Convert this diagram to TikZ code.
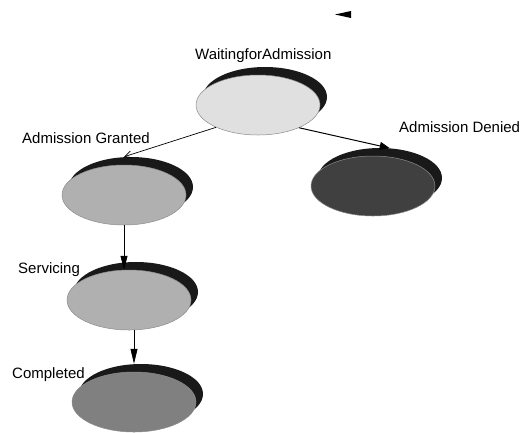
\documentclass[tikz,border=0pt]{standalone}
\usepackage{fontspec}
\setmainfont{Liberation Sans}
\usetikzlibrary{shapes.geometric, arrows.meta, shadows}

\begin{document}
\begin{tikzpicture}[
  x=1pt, y=-1pt,
  every node/.style={font=\fontsize{15}{18}\selectfont},
  phase/.style={
    ellipse, draw=black!45, line width=0.5pt,
    minimum width=124pt, minimum height=60pt, inner sep=0pt,
    drop shadow={shadow xshift=7pt, shadow yshift=8pt,
                 fill=black!90, opacity=1}
  },
  phasename/.style={anchor=base west, inner sep=0pt},
  arrow/.style={line width=0.7pt}
]

\useasboundingbox (0,0) rectangle (521,432);

\node[phase, fill=black!12] (waiting)   at (258,105) {};
\node[phase, fill=black!31] (granted)   at (124,195) {};
\node[phase, fill=black!75] (denied)    at (373,186) {};
\node[phase, fill=black!31] (servicing) at (129,300) {};
\node[phase, fill=black!50] (completed) at (134,402) {};

\node[phasename] (waitingname)   at (195,59)  {WaitingforAdmission};
\node[phasename] (grantedname)   at (22,143)  {Admission Granted};
\node[phasename] (deniedname)    at (399,132) {Admission Denied};
\node[phasename] (servicingname) at (18,273)  {Servicing};
\node[phasename] (completedname) at (12,378)  {Completed};

\draw[arrow, -{Straight Barb[length=7pt, width=7pt]}]
  (waiting.208) -- ([yshift=8pt]granted.north);
\draw[arrow, line width=1pt, -{Triangle[length=10pt, width=8pt]}]
  (waiting.331) -- ([shift={(7pt,8pt)}]denied.72);
\draw[arrow, -{Triangle[length=14pt, width=7pt]}]
  (granted.south) -- (granted.south |- servicing.north);
\draw[arrow, -{Triangle[length=15pt, width=7pt]}]
  (servicing.south -| completed.north) -- ([yshift=8pt]completed.north);

% small marker at the top
\fill (335,14.5) -- (351,11) -- (351,18) -- cycle;

\end{tikzpicture}
\end{document}
